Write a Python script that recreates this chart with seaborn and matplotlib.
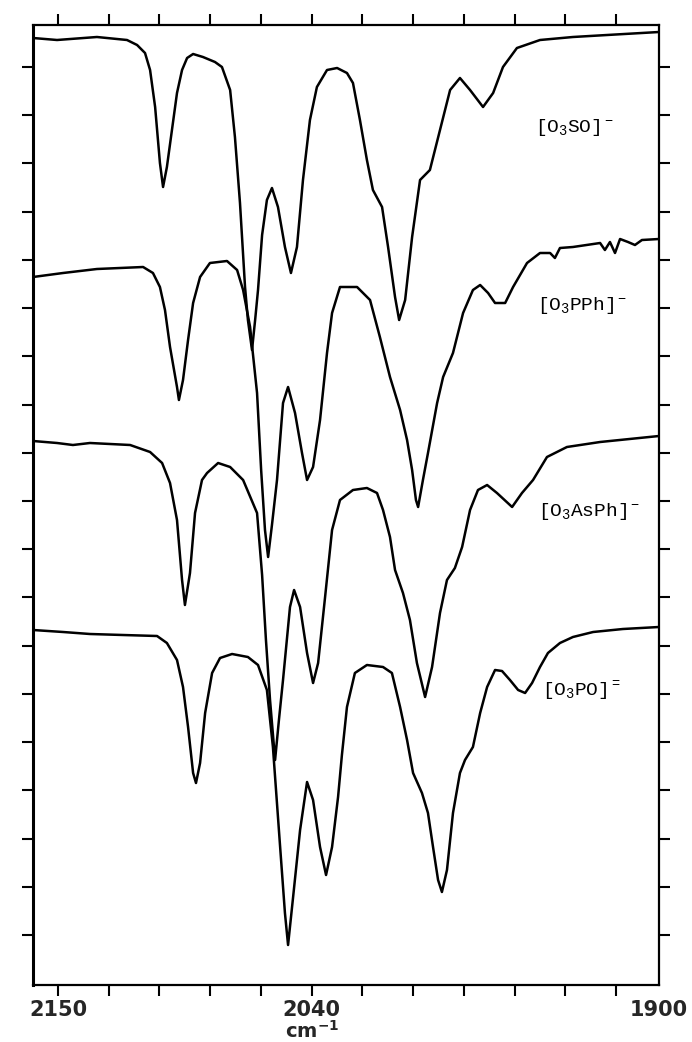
import numpy as np
import matplotlib
matplotlib.use("Agg")
import matplotlib.pyplot as plt
import seaborn as sns

# IR spectra (carbonyl region)
# wavenumber (cm-1) and transmittance (arbitrary, curves stacked)
wn_so = [2160.4, 2150.4, 2133.8, 2121.3, 2117.1, 2113.8, 2111.7, 2109.6, 2107.6, 2106.3,
         2104.7, 2102.6, 2100.5, 2098.4, 2096.3, 2093.8, 2089.7, 2084.7, 2081.8, 2078.4,
         2076.4, 2074.3, 2072.2, 2071.0, 2069.3, 2068.0, 2066.8, 2065.1, 2063.1, 2061.0,
         2058.5, 2055.6, 2053.1, 2050.6, 2048.1, 2045.2, 2042.3, 2038.1, 2033.9, 2029.8,
         2027.3, 2024.4, 2021.5, 2019.0, 2015.2, 2012.7, 2009.8, 2008.1, 2005.6, 2002.7,
         1999.4, 1995.3, 1991.1, 1986.9, 1982.8, 1978.6, 1973.2, 1969.0, 1964.9, 1959.1,
         1949.5, 1935.8, 1921.6, 1900.0]
t_so = [94.7, 94.5, 94.8, 94.5, 94.0, 93.2, 91.5, 87.8, 82.2, 79.8,
        81.8, 85.5, 89.2, 91.5, 92.7, 93.1, 92.8, 92.3, 91.8, 89.5,
        84.8, 78.2, 69.8, 66.5, 63.5, 66.5, 69.5, 75.0, 78.5, 79.7,
        77.8, 73.8, 71.2, 73.8, 80.5, 86.5, 89.8, 91.5, 91.7, 91.2,
        90.2, 86.5, 82.5, 79.5, 77.8, 73.8, 68.8, 66.5, 68.5, 74.8,
        80.5, 81.5, 85.5, 89.5, 90.7, 89.5, 87.8, 89.2, 91.8, 93.7,
        94.5, 94.8, 95.0, 95.3]

wn_pph = [2160.4, 2147.9, 2133.8, 2114.6, 2110.5, 2107.6, 2105.5, 2103.4, 2100.5, 2099.7,
          2098.0, 2095.9, 2093.8, 2090.9, 2086.8, 2079.7, 2075.5, 2073.0, 2070.1, 2067.2,
          2065.5, 2063.9, 2062.6, 2061.0, 2058.9, 2056.4, 2054.3, 2051.4, 2048.5, 2046.4,
          2043.9, 2041.0, 2038.1, 2036.0, 2032.7, 2025.6, 2020.2, 2016.1, 2011.9, 2007.7,
          2004.8, 2002.7, 2001.1, 2000.2, 1998.2, 1996.1, 1992.3, 1989.8, 1985.7, 1981.5,
          1977.4, 1974.4, 1971.1, 1968.2, 1964.0, 1960.7, 1954.9, 1949.5, 1945.3, 1943.3,
          1941.2, 1935.8, 1924.5, 1922.5, 1920.4, 1918.3, 1916.2, 1912.9, 1910.0, 1907.1,
          1900.0]
t_pph = [70.8, 71.2, 71.6, 71.8, 71.2, 69.8, 67.5, 63.8, 59.8, 58.5,
         60.5, 64.5, 68.2, 70.8, 72.2, 72.4, 71.5, 69.5, 65.8, 59.2,
         51.5, 45.5, 42.8, 46.0, 50.5, 58.2, 59.8, 57.2, 53.2, 50.5,
         51.8, 56.5, 63.2, 67.2, 69.8, 69.8, 68.5, 64.8, 60.8, 57.5,
         54.5, 51.5, 48.5, 47.8, 50.5, 53.2, 58.2, 60.8, 63.2, 67.2,
         69.5, 70.0, 69.2, 68.2, 68.2, 69.8, 72.2, 73.2, 73.2, 72.7,
         73.7, 73.8, 74.2, 73.5, 74.3, 73.2, 74.6, 74.3, 74.0, 74.5,
         74.6]

wn_asph = [2160.4, 2150.4, 2143.8, 2136.7, 2120.0, 2111.7, 2106.7, 2103.4, 2100.5, 2098.4,
           2097.2, 2095.1, 2093.0, 2090.1, 2088.0, 2083.4, 2078.4, 2073.0, 2067.2, 2065.1,
           2063.5, 2061.8, 2059.7, 2058.1, 2056.4, 2053.5, 2051.8, 2049.3, 2046.4, 2043.9,
           2041.8, 2038.9, 2036.0, 2032.7, 2027.3, 2021.5, 2017.3, 2014.8, 2011.9, 2009.8,
           2006.5, 2003.6, 2000.7, 1997.3, 1994.4, 1991.1, 1988.2, 1984.9, 1981.9, 1978.6,
           1975.3, 1971.5, 1967.4, 1961.1, 1957.0, 1952.4, 1946.6, 1938.3, 1924.5, 1900.0]
t_asph = [54.4, 54.2, 54.0, 54.2, 54.0, 53.3, 52.2, 50.2, 46.5, 40.5,
          38.0, 41.2, 47.2, 50.5, 51.2, 52.2, 51.8, 50.5, 47.2, 41.0,
          34.5, 28.5, 22.5, 26.5, 30.5, 37.8, 39.5, 37.8, 33.2, 30.2,
          32.2, 38.8, 45.5, 48.5, 49.5, 49.7, 49.2, 47.5, 44.8, 41.5,
          39.2, 36.5, 32.2, 28.8, 31.8, 37.2, 40.5, 41.7, 43.8, 47.5,
          49.5, 50.0, 49.2, 47.8, 49.2, 50.5, 52.8, 53.8, 54.3, 54.9]

wn_po = [2160.4, 2147.9, 2136.7, 2123.0, 2108.8, 2104.7, 2100.5, 2098.0, 2095.9, 2093.8,
         2092.6, 2090.9, 2088.8, 2085.9, 2082.6, 2077.6, 2071.0, 2066.8, 2063.1, 2060.6,
         2057.6, 2055.6, 2054.3, 2052.2, 2049.3, 2046.4, 2043.9, 2041.0, 2038.5, 2036.0,
         2033.5, 2031.9, 2029.8, 2026.5, 2021.5, 2014.8, 2011.1, 2007.7, 2004.8, 2002.3,
         1998.6, 1996.1, 1994.0, 1991.9, 1990.3, 1988.2, 1985.7, 1982.8, 1980.7, 1977.4,
         1974.4, 1971.5, 1968.2, 1965.3, 1962.0, 1958.6, 1955.7, 1952.8, 1949.5, 1946.2,
         1941.2, 1935.8, 1927.4, 1915.0, 1900.0]
t_po = [35.5, 35.3, 35.1, 35.0, 34.9, 34.2, 32.5, 29.8, 25.8, 21.2,
        20.2, 22.2, 27.2, 31.2, 32.7, 33.1, 32.8, 32.0, 29.5, 23.8,
        13.8, 7.2, 4.0, 8.8, 15.5, 20.3, 18.5, 13.8, 11.0, 13.8,
        18.8, 23.0, 27.8, 31.2, 32.0, 31.8, 31.2, 27.8, 24.5, 21.2,
        19.2, 17.2, 13.8, 10.5, 9.3, 11.5, 17.2, 21.2, 22.5, 23.8,
        27.2, 29.8, 31.5, 31.4, 30.5, 29.5, 29.2, 30.2, 31.8, 33.2,
        34.2, 34.8, 35.3, 35.6, 35.8]

labels = [r"[O$_3$SO]$^-$", r"[O$_3$PPh]$^-$", r"[O$_3$AsPh]$^-$", r"[O$_3$PO]$^=$"]
label_xy = [(1951.6, 85.8), (1950.7, 68.0), (1950.3, 47.3), (1948.7, 29.3)]

tick_labels = ["2150", "2040", "1900"]
tick_label_pos = [2150.0, 2044.4, 1900.0]

sns.set_style("ticks")
plt.rcParams.update({
    "font.family": ["DejaVu Sans"],
    "mathtext.fontset": "custom",
    "mathtext.rm": "Liberation Mono",
    "mathtext.it": "Liberation Mono",
    "mathtext.bf": "DejaVu Sans:bold",
})

fig = plt.figure(figsize=(6.92, 10.42), dpi=100)
ax = fig.add_axes([33 / 692, 57 / 1042, 626 / 692, 960 / 1042])

for wn, t in [(wn_so, t_so), (wn_pph, t_pph), (wn_asph, t_asph), (wn_po, t_po)]:
    sns.lineplot(x=wn, y=t, ax=ax, color="black", linewidth=1.8,
                 sort=False, estimator=None)
for line in ax.lines:
    line.set_solid_joinstyle("round")

for txt, (x, y) in zip(labels, label_xy):
    ax.text(x, y, txt, fontsize=14, family="Liberation Mono",
            ha="left", va="center", color="black")

ax.set_xlim(2160.4, 1900)
ax.set_ylim(0, 96)

# evenly spaced chart ticks (12 inside + the right edge)
xt = list(2150.0 - 21.11 * np.arange(12)) + [1900.0]
xl = [""] * len(xt)
xl[0], xl[5], xl[-1] = tick_labels
ax.set_xticks(xt)
ax.set_xticklabels(xl)
ax.set_yticks(np.linspace(5.0, 91.8, 19))
ax.set_yticklabels([])
ax.tick_params(axis="both", which="major", direction="out", length=8, width=1.5,
               top=True, right=True, color="black", pad=3)
ax.tick_params(axis="x", labelsize=15)
for lab in ax.get_xticklabels():
    lab.set_fontweight("bold")
last = ax.xaxis.get_major_ticks()[-1]
last.tick1line.set_visible(False)
last.tick2line.set_visible(False)

for side in ["left", "right", "top", "bottom"]:
    ax.spines[side].set_visible(True)
    ax.spines[side].set_color("black")
    ax.spines[side].set_linewidth(1.6)
ax.spines["left"].set_linewidth(2.2)

ax.annotate(r"cm$^{\mathbf{-1}}$", xy=(tick_label_pos[1], 0),
            xycoords=("data", "axes fraction"), xytext=(0, -33),
            textcoords="offset points", ha="center", va="center",
            fontsize=14, fontweight="bold")
ax.set_xlabel("")
ax.set_ylabel("")

fig.savefig("out.png", dpi=100)
